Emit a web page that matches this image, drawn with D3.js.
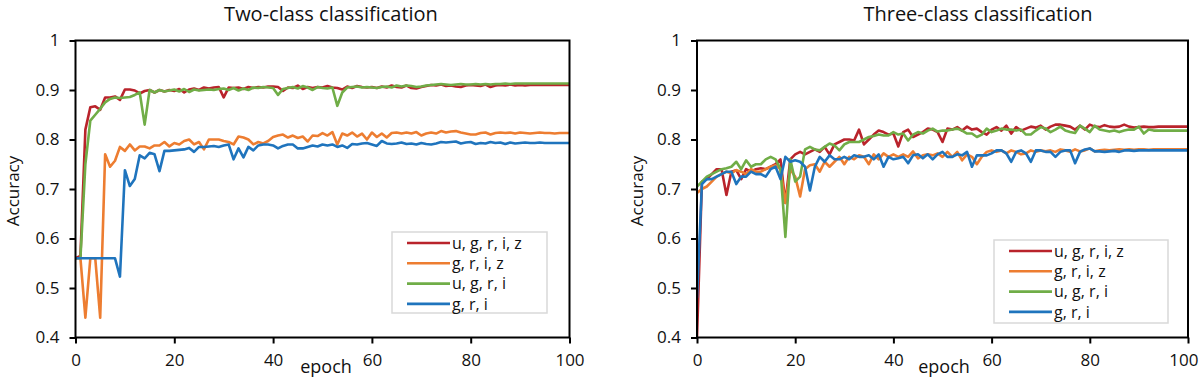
<!DOCTYPE html>
<html>
<head>
<meta charset="utf-8">
<script src="https://cdn.jsdelivr.net/npm/d3@7"></script>
<style>
  body { margin: 0; background: #fff; }
  svg text { font-family: "Open Sans", "Noto Sans", sans-serif; fill: #111; }
</style>
</head>
<body>
<div id="chart"></div>
<script>
var epochs = d3.range(0, 101);
var seriesNames = ["u, g, r, i, z", "g, r, i, z", "u, g, r, i", "g, r, i"];
var seriesColors = ["#b9232b", "#ed7d31", "#70ad47", "#1f74bd"];
var yTicks = [0.4, 0.5, 0.6, 0.7, 0.8, 0.9, 1];
var yTickLabels = ["0.4", "0.5", "0.6", "0.7", "0.8", "0.9", "1"];
var xTicks = [0, 20, 40, 60, 80, 100];

// two-class, epochs 0..100
var twoRed = [0.56,0.565,0.82,0.865,0.867,0.86,0.885,0.885,0.887,0.88,0.901,0.901,0.899,0.893,0.898,0.9,0.895,0.9,0.897,0.9,
  0.898,0.902,0.895,0.901,0.903,0.9,0.905,0.903,0.905,0.906,0.885,0.905,0.904,0.905,0.902,0.906,0.904,0.906,0.905,0.907,
  0.907,0.906,0.898,0.905,0.904,0.909,0.902,0.906,0.904,0.906,0.905,0.908,0.905,0.904,0.901,0.907,0.904,0.908,0.906,0.905,
  0.906,0.904,0.907,0.905,0.909,0.906,0.905,0.909,0.904,0.903,0.906,0.908,0.91,0.909,0.911,0.908,0.909,0.907,0.906,0.909,
  0.91,0.909,0.908,0.911,0.906,0.909,0.91,0.909,0.911,0.909,0.91,0.909,0.91,0.91,0.91,0.91,0.91,0.91,0.91,0.91,0.91];
var twoOrange = [0.56,0.56,0.44,0.56,0.56,0.44,0.77,0.745,0.757,0.785,0.777,0.79,0.778,0.786,0.786,0.782,0.788,0.788,0.795,0.786,
  0.793,0.79,0.797,0.8,0.79,0.795,0.78,0.8,0.8,0.8,0.797,0.795,0.79,0.806,0.804,0.8,0.79,0.795,0.792,0.797,
  0.805,0.808,0.81,0.804,0.808,0.803,0.806,0.796,0.808,0.807,0.813,0.808,0.815,0.79,0.812,0.808,0.814,0.806,0.812,0.8,
  0.814,0.805,0.812,0.804,0.813,0.814,0.812,0.814,0.812,0.815,0.808,0.812,0.814,0.812,0.817,0.814,0.816,0.817,0.814,0.812,
  0.81,0.81,0.813,0.814,0.81,0.813,0.814,0.813,0.814,0.812,0.814,0.813,0.812,0.813,0.814,0.813,0.813,0.812,0.813,0.813,0.813];
var twoGreen = [0.56,0.56,0.75,0.838,0.85,0.862,0.875,0.882,0.885,0.884,0.885,0.886,0.89,0.895,0.83,0.9,0.895,0.9,0.897,0.899,
  0.901,0.897,0.902,0.896,0.901,0.899,0.9,0.901,0.9,0.902,0.903,0.9,0.904,0.899,0.903,0.9,0.905,0.904,0.906,0.905,
  0.904,0.89,0.902,0.904,0.906,0.903,0.908,0.905,0.9,0.906,0.904,0.903,0.905,0.868,0.895,0.905,0.906,0.907,0.905,0.906,
  0.905,0.904,0.906,0.907,0.905,0.909,0.907,0.909,0.908,0.906,0.907,0.909,0.91,0.911,0.912,0.911,0.91,0.911,0.912,0.911,
  0.911,0.912,0.911,0.912,0.911,0.912,0.912,0.913,0.912,0.913,0.913,0.913,0.913,0.913,0.913,0.913,0.913,0.913,0.913,0.913,0.913];
var twoBlue = [0.56,0.56,0.56,0.56,0.56,0.56,0.56,0.56,0.56,0.523,0.738,0.706,0.72,0.768,0.762,0.773,0.77,0.736,0.777,0.777,
  0.778,0.779,0.78,0.783,0.775,0.785,0.785,0.786,0.787,0.785,0.788,0.79,0.76,0.782,0.764,0.785,0.778,0.788,0.79,0.79,
  0.788,0.782,0.787,0.79,0.79,0.782,0.782,0.785,0.788,0.786,0.79,0.788,0.79,0.785,0.788,0.783,0.791,0.79,0.792,0.793,
  0.79,0.787,0.797,0.792,0.791,0.792,0.794,0.791,0.792,0.79,0.793,0.791,0.79,0.792,0.795,0.794,0.795,0.796,0.792,0.794,
  0.795,0.791,0.793,0.792,0.795,0.793,0.794,0.791,0.794,0.792,0.793,0.794,0.793,0.793,0.794,0.793,0.793,0.793,0.793,0.793,0.793];

// three-class, epochs 0..100
var threeRed = [0.4,0.715,0.72,0.73,0.74,0.74,0.688,0.735,0.738,0.72,0.74,0.735,0.74,0.742,0.74,0.745,0.75,0.76,0.672,0.76,
  0.77,0.775,0.77,0.775,0.78,0.775,0.785,0.77,0.79,0.795,0.8,0.8,0.798,0.82,0.79,0.8,0.81,0.818,0.815,0.81,
  0.812,0.786,0.815,0.82,0.805,0.81,0.815,0.822,0.82,0.815,0.795,0.822,0.82,0.825,0.818,0.826,0.82,0.822,0.815,0.81,
  0.82,0.825,0.818,0.828,0.812,0.825,0.818,0.822,0.826,0.824,0.828,0.82,0.826,0.83,0.83,0.828,0.826,0.82,0.828,0.82,
  0.83,0.826,0.825,0.829,0.826,0.825,0.826,0.83,0.826,0.824,0.825,0.826,0.825,0.825,0.826,0.826,0.826,0.826,0.826,0.826,0.826];
var threeOrange = [0.692,0.7,0.705,0.715,0.725,0.73,0.735,0.732,0.738,0.735,0.73,0.74,0.735,0.735,0.74,0.745,0.748,0.74,0.672,0.74,
  0.725,0.685,0.74,0.748,0.75,0.735,0.755,0.745,0.755,0.765,0.75,0.765,0.76,0.768,0.765,0.75,0.77,0.76,0.772,0.765,
  0.77,0.765,0.77,0.765,0.776,0.762,0.768,0.77,0.768,0.772,0.765,0.775,0.765,0.775,0.758,0.77,0.765,0.75,0.765,0.775,
  0.778,0.775,0.778,0.772,0.778,0.775,0.77,0.772,0.778,0.775,0.778,0.776,0.778,0.775,0.78,0.778,0.775,0.78,0.776,0.778,
  0.782,0.776,0.778,0.779,0.778,0.779,0.78,0.779,0.78,0.779,0.78,0.78,0.779,0.78,0.78,0.78,0.78,0.78,0.78,0.78,0.78];
var threeGreen = [0.705,0.715,0.725,0.73,0.735,0.74,0.742,0.745,0.755,0.74,0.758,0.745,0.75,0.75,0.76,0.765,0.76,0.74,0.603,0.76,
  0.715,0.725,0.78,0.785,0.78,0.778,0.785,0.792,0.788,0.778,0.79,0.795,0.795,0.795,0.8,0.805,0.807,0.81,0.808,0.808,
  0.815,0.81,0.812,0.798,0.81,0.815,0.812,0.818,0.822,0.816,0.818,0.818,0.82,0.822,0.818,0.812,0.812,0.805,0.81,0.822,
  0.815,0.818,0.822,0.82,0.82,0.818,0.82,0.81,0.81,0.818,0.825,0.822,0.815,0.82,0.826,0.818,0.815,0.813,0.828,0.822,
  0.815,0.828,0.82,0.818,0.816,0.818,0.815,0.818,0.82,0.82,0.826,0.812,0.82,0.818,0.818,0.818,0.818,0.818,0.818,0.818,0.818];
var threeBlue = [0.48,0.71,0.72,0.72,0.725,0.73,0.735,0.735,0.71,0.725,0.725,0.735,0.73,0.73,0.725,0.74,0.745,0.72,0.765,0.755,
  0.758,0.755,0.745,0.697,0.745,0.765,0.755,0.768,0.76,0.76,0.765,0.76,0.768,0.765,0.765,0.768,0.76,0.77,0.745,0.765,
  0.76,0.762,0.765,0.752,0.768,0.77,0.762,0.77,0.76,0.77,0.775,0.765,0.765,0.77,0.768,0.775,0.745,0.768,0.768,0.768,
  0.772,0.778,0.778,0.772,0.755,0.775,0.778,0.772,0.755,0.778,0.778,0.775,0.775,0.765,0.775,0.778,0.778,0.752,0.775,0.78,
  0.782,0.776,0.776,0.775,0.776,0.777,0.775,0.778,0.778,0.777,0.778,0.778,0.778,0.778,0.778,0.778,0.778,0.778,0.778,0.778,0.778];

var W = 1200, H = 381;
var svg = d3.select("#chart").append("svg").attr("width", W).attr("height", H);

function drawPanel(p){
    var x = d3.scaleLinear().domain([0, 100]).range([p.x0, p.x1]);
    var y = d3.scaleLinear().domain([0.4, 1]).range([p.y1, p.y0]);
    var g = svg.append("g");

    g.append("text").attr("x", p.titleX).attr("y", 21).attr("text-anchor", "middle")
        .style("font-size", "20px").text(p.title);

    var clipId = "clip" + p.id;
    g.append("clipPath").attr("id", clipId).append("rect")
        .attr("x", p.x0).attr("y", p.y0).attr("width", p.x1 - p.x0).attr("height", p.y1 - p.y0);

    var line = d3.line()
        .x(function(d, i){ return x(epochs[i]); })
        .y(function(d){ return y(d); });

    p.series.forEach(function(s, k){
        g.append("path")
            .datum(s)
            .attr("clip-path", "url(#" + clipId + ")")
            .attr("fill", "none")
            .attr("stroke", seriesColors[k])
            .attr("stroke-width", 2.6)
            .attr("stroke-linejoin", "round")
            .attr("d", line);
    });

    // frame
    g.append("rect").attr("x", p.x0).attr("y", p.y0)
        .attr("width", p.x1 - p.x0).attr("height", p.y1 - p.y0)
        .attr("fill", "none").attr("stroke", "#000").attr("stroke-width", 2);

    var yAxis = g.append("g").attr("transform", "translate(" + p.x0 + ",0)")
        .call(d3.axisLeft(y).tickValues(yTicks).tickSize(6).tickPadding(10)
            .tickFormat(function(d, i){ return yTickLabels[i]; }));
    var xAxis = g.append("g").attr("transform", "translate(0," + p.y1 + ")")
        .call(d3.axisBottom(x).tickValues(xTicks).tickSize(6).tickPadding(10));
    [yAxis, xAxis].forEach(function(a){
        a.select(".domain").remove();
        a.selectAll("line").attr("stroke", "#000").attr("stroke-width", 2);
        a.selectAll("text").style("font-size", "17px").style("font-family", "Open Sans, sans-serif").attr("fill", "#111");
    });
    // keep the last x label inside the window
    xAxis.selectAll(".tick").filter(function(d){ return d === 100 && p.x1 > 1150; })
        .select("text").attr("text-anchor", "end").attr("dx", "10px");

    g.append("text").attr("transform", "translate(" + p.yLabelX + "," + ((p.y0 + p.y1) / 2 + 2) + ") rotate(-90)")
        .attr("text-anchor", "middle").style("font-size", "17px").text("Accuracy");
    g.append("text").attr("x", p.xLabelX).attr("y", 373).attr("text-anchor", "middle")
        .style("font-size", "18px").text("epoch");

    // legend
    var lg = g.append("g");
    lg.append("rect").attr("x", p.lx).attr("y", p.ly).attr("width", p.lw).attr("height", p.lh)
        .attr("fill", "#fff").attr("stroke", "#d9d9d9").attr("stroke-width", 1.5);
    seriesNames.forEach(function(name, k){
        var ry = p.ly + 11 + k * 20.3;
        lg.append("line").attr("x1", p.lx + 15).attr("x2", p.lx + 58)
            .attr("y1", ry).attr("y2", ry)
            .attr("stroke", seriesColors[k]).attr("stroke-width", 2.6);
        lg.append("text").attr("x", p.lx + 60).attr("y", ry).attr("dy", "0.35em")
            .style("font-size", "16px").text(name);
    });
}

drawPanel({id: "a", title: "Two-class classification", titleX: 331,
    x0: 75.5, x1: 569.5, y0: 40.5, y1: 337.5, yLabelX: 19, xLabelX: 326,
    lx: 392, ly: 232, lw: 155, lh: 81,
    series: [twoRed, twoOrange, twoGreen, twoBlue]});
drawPanel({id: "b", title: "Three-class classification", titleX: 978,
    x0: 697, x1: 1188, y0: 40.5, y1: 337.5, yLabelX: 643, xLabelX: 944,
    lx: 994, ly: 240, lw: 174, lh: 83,
    series: [threeRed, threeOrange, threeGreen, threeBlue]});
</script>
</body>
</html>
